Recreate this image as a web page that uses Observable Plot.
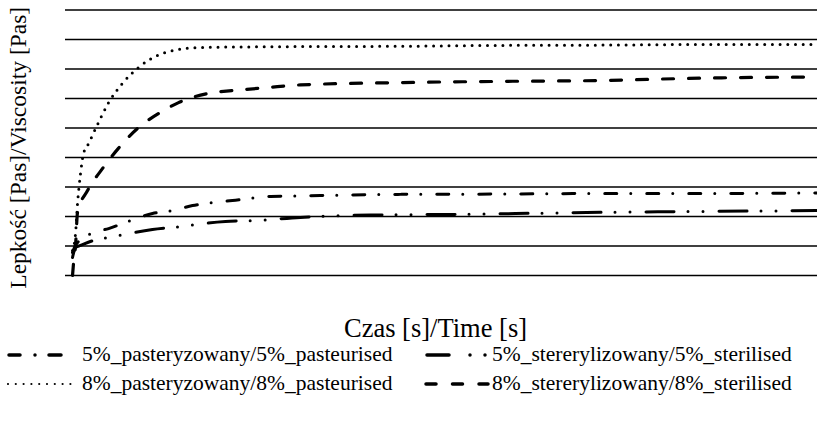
<!DOCTYPE html>
<html><head><meta charset="utf-8">
<script src="https://cdn.jsdelivr.net/npm/d3@7"></script>
<script src="https://cdn.jsdelivr.net/npm/@observablehq/plot@0.6"></script>
<style>
body{margin:0;background:#fff;font-family:"Liberation Serif","Times New Roman",serif;}
#wrap{position:relative;width:817px;height:423px;overflow:hidden;background:#fff;}
#chart{position:absolute;left:0;top:0;}
.leg{position:absolute;font-size:21.5px;line-height:1;white-space:nowrap;color:#000;}
.sw{position:absolute;}
</style></head><body><div id="wrap"><div id="chart"></div><div id="legend"></div></div>
<script>
// ---- data ----
const xLabel = "Czas [s]/Time [s]";
const yLabel = "Lepkość [Pas]/Viscosity [Pas]";
const seriesNames = [
  "5%_pasteryzowany/5%_pasteurised",
  "5%_stererylizowany/5%_sterilised",
  "8%_pasteryzowany/8%_pasteurised",
  "8%_stererylizowany/8%_sterilised"
];
const gridTicks = [0, 1, 2, 3, 4, 5, 6, 7, 8, 9];

const time_5p = [2.8, 4, 10, 17.2, 25.9, 34.7, 42.7, 50.7, 58.6, 66.6, 81.8, 101.7, 133.6, 173.5, 213.4, 253.3, 300];
const visc_5p = [0.78, 1.02, 1.42, 1.59, 1.86, 2.10, 2.20, 2.37, 2.47, 2.54, 2.68, 2.71, 2.75, 2.76, 2.78, 2.78, 2.80];

const time_5s = [2.8, 4, 6, 11.2, 17.2, 23.1, 34.7, 45.9, 51.9, 63.8, 74.6, 93.7, 121.7, 153.6, 179.5, 213.4, 253.3, 300];
const visc_5s = [0.61, 0.95, 1.02, 1.19, 1.29, 1.39, 1.56, 1.66, 1.73, 1.83, 1.86, 1.97, 2.05, 2.07, 2.10, 2.14, 2.17, 2.20];

const time_8p = [2.8, 4, 4.8, 6, 7.2, 9.2, 12, 17.2, 22.7, 29.1, 36.7, 43.1, 53.8, 93.7, 133.6, 173.5, 213.4, 253.3, 300];
const visc_8p = [0.85, 1.42, 2.44, 3.46, 4.14, 4.47, 4.98, 5.86, 6.51, 7.05, 7.46, 7.63, 7.73, 7.76, 7.77, 7.80, 7.81, 7.83, 7.83];

const time_8s = [2.8, 3.2, 4, 4.8, 8.8, 14.8, 21.1, 28.7, 37.9, 45.1, 56.7, 67.1, 80.6, 93.7, 133.6, 173.5, 213.4, 253.3, 300];
const visc_8s = [0, 0.41, 1.02, 2.14, 2.88, 3.63, 4.31, 4.98, 5.53, 5.86, 6.17, 6.27, 6.37, 6.46, 6.54, 6.58, 6.61, 6.69, 6.73];

// ---- styles ----
const styles = [
  {dash: "12,14,0,16", width: 3},
  {dash: "28,14,0,15,0,16", width: 3},
  {dash: "0,7.7", width: 3},
  {dash: "11,15", width: 3.2}
];
const times = [time_5p, time_5s, time_8p, time_8s];
const viscs = [visc_5p, visc_5s, visc_8p, visc_8s];
const data = seriesNames.map((s, i) => times[i].map((t, j) => ({series: s, t, v: viscs[i][j]})));

const chart = Plot.plot({
  width: 817, height: 345,
  marginLeft: 65, marginRight: 0, marginTop: 9.5, marginBottom: 70,
  x: {domain: [0, 300], axis: null},
  y: {domain: [0, 9], axis: null},
  style: {fontFamily: '"Liberation Serif","Times New Roman",serif', background: "#fff"},
  marks: [
    Plot.ruleY(gridTicks, {stroke: "#000", strokeWidth: 1.4}),
    ...data.map((d, i) => Plot.line(d, {
      x: "t", y: "v", stroke: "#000", strokeWidth: styles[i].width,
      strokeDasharray: styles[i].dash, strokeLinecap: "round", curve: "monotone-x"
    })),
    Plot.text([xLabel], {text: d => d, frameAnchor: "bottom", dy: 53, dx: -6, fontSize: 26.5, fill: "#000", lineAnchor: "middle", textAnchor: "middle"}),
    Plot.text([yLabel], {text: d => d, frameAnchor: "left", rotate: -90, dx: -47, dy: 5, fontSize: 23.5, fill: "#000", lineAnchor: "middle", textAnchor: "middle"})
  ]
});
document.getElementById("chart").appendChild(chart);

// ---- legend ----
const legendPos = [
  {sx: 9, tx: 82, y: 355, len: 52},
  {sx: 427, tx: 492, y: 355, len: 60},
  {sx: 8, tx: 82, y: 384, len: 63},
  {sx: 426, tx: 492, y: 384, len: 62}
];
const legendDash = ["11,15,0,14,12", "22,21,0,15,0,100", "0,7.8", "10,16.5"];
const legendWidth = [3.5, 3.5, 2.2, 3.5];
const leg = document.getElementById("legend");
seriesNames.forEach((name, i) => {
  const p = legendPos[i];
  const sw = document.createElementNS("http://www.w3.org/2000/svg", "svg");
  sw.setAttribute("class", "sw");
  sw.setAttribute("width", p.len + 8);
  sw.setAttribute("height", 12);
  sw.style.left = (p.sx - 4) + "px";
  sw.style.top = (p.y - 6) + "px";
  const ln = document.createElementNS("http://www.w3.org/2000/svg", "line");
  ln.setAttribute("x1", 4); ln.setAttribute("x2", 4 + p.len);
  ln.setAttribute("y1", 6); ln.setAttribute("y2", 6);
  ln.setAttribute("stroke", "#000");
  ln.setAttribute("stroke-width", legendWidth[i]);
  ln.setAttribute("stroke-dasharray", legendDash[i]);
  ln.setAttribute("stroke-linecap", "round");
  sw.appendChild(ln);
  leg.appendChild(sw);
  const t = document.createElement("div");
  t.className = "leg";
  t.textContent = name;
  t.style.left = p.tx + "px";
  t.style.top = (p.y - 11) + "px";
  leg.appendChild(t);
});
</script>
</body></html>
